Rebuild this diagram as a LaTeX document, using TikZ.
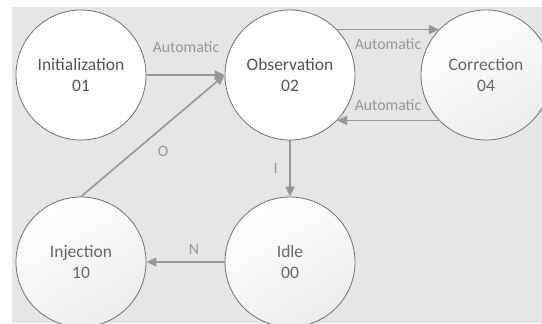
\documentclass[tikz,border=0pt]{standalone}
\usepackage{fontspec}
\setmainfont{Carlito}
\usetikzlibrary{arrows.meta}
\definecolor{bgfill}{HTML}{E6E6E6}
\definecolor{ringcol}{HTML}{6E6E6E}
\definecolor{linkcol}{HTML}{969696}
\definecolor{statetxt}{HTML}{555555}
\definecolor{statetxtlight}{HTML}{666666}
\tikzset{
  state/.style={circle, draw=ringcol, line width=0.8bp, fill=white,
    minimum size=130bp, inner sep=0pt, align=center, text=statetxt,
    font=\fontsize{17.5bp}{21bp}\selectfont},
  softstate/.style={state, text=statetxtlight, shading=axis,
    top color=white, bottom color=black!7, shading angle=30},
  link/.style={draw=linkcol, line width=1.6bp,
    -{Triangle[length=10bp,width=9bp]}},
  linklabel/.style={text=linkcol, inner sep=0pt,
    font=\fontsize{15.8bp}{18bp}\selectfont},
}
\begin{document}
\begin{tikzpicture}[x=1bp,y=-1bp]
  \useasboundingbox (0,0) rectangle (542,323);
  \clip (0,0) rectangle (542,323);
  \fill[bgfill] (12,7) rectangle (542,323);

  % states
  \node[state]     (init) at (81,75)   {Initialization\\01};
  \node[state]     (obs)  at (290,75)  {Observation\\02};
  \node[softstate] (corr) at (486,75)  {Correction\\04};
  \node[softstate] (inj)  at (81,262)  {Injection\\10};
  \node[softstate] (idle) at (290,262) {Idle\\00};

  % transitions
  \draw[link] (init.east) -- (obs.west);
  \draw[link] (obs.44) -- (corr.136);
  \draw[link] (corr.-136) -- (obs.-44);
  \draw[link] (obs.south) -- (idle.north);
  \draw[link] (idle.west) -- (inj.east);
  \draw[link] (inj.north) -- (obs.west);

  % transition labels
  \node[linklabel] (lauto1) at (186,47)  {Automatic};
  \node[linklabel] (lauto2) at (388,44)  {Automatic};
  \node[linklabel] (lauto3) at (388,105) {Automatic};
  \node[linklabel] (li)     at (275.5,168) {I};
  \node[linklabel] (ln)     at (194,249) {N};
  \node[linklabel] (lo)     at (163,151) {O};
\end{tikzpicture}
\end{document}
